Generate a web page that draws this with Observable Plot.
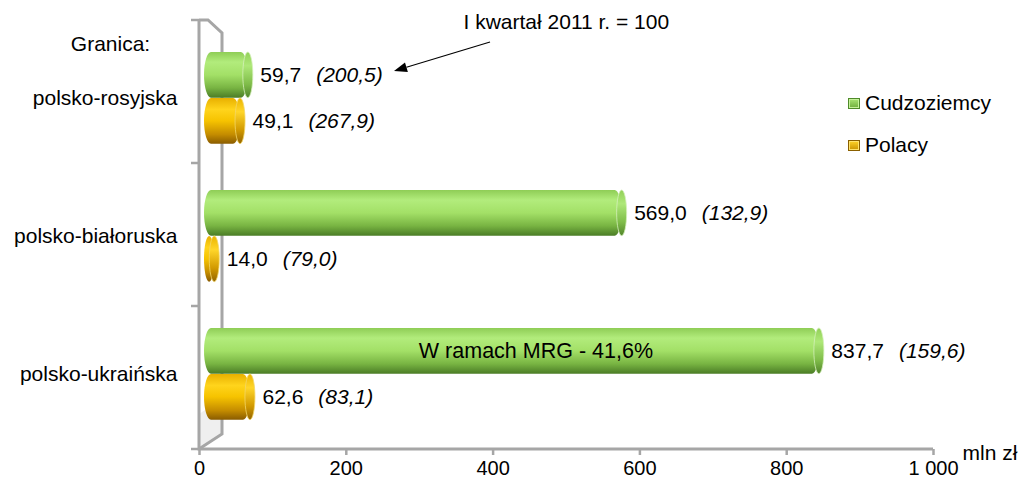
<!DOCTYPE html>
<html><head><meta charset="utf-8">
<script src="https://cdn.jsdelivr.net/npm/d3@7"></script>
<script src="https://cdn.jsdelivr.net/npm/@observablehq/plot@0.6"></script>
<style>
body{margin:0;background:#fff;font-family:"Liberation Sans",Arial,sans-serif;}
#wrap{position:relative;width:1019px;height:495px;}
.legend{position:absolute;left:848px;top:89px;font-size:21px;color:#000;}
.legend .item{display:flex;align-items:center;height:28px;margin-bottom:14px;}
.legend .sw{width:12px;height:11px;margin-right:5px;box-sizing:border-box;}
g[aria-label="x-axis tick"] path{stroke:#a6a6a6;stroke-width:2.5px;}
</style></head><body><div id="wrap"></div>
<script>
const categories = ["polsko-rosyjska", "polsko-białoruska", "polsko-ukraińska"];
const seriesNames = ["Cudzoziemcy", "Polacy"];
const cudzoziemcy = [59.7, 569.0, 837.7];
const cudzoziemcyIndex = [200.5, 132.9, 159.6];
const polacy = [49.1, 14.0, 62.6];
const polacyIndex = [267.9, 79.0, 83.1];
const xTicks = [0, 200, 400, 600, 800, 1000];
const annotation = "I kwartał 2011 r. = 100";
const mrgNote = "W ramach MRG - 41,6%";
const mrgCategory = "polsko-ukraińska";
const axisTitle = "Granica:";
const unit = "mln zł";

const green = categories.map((c, i) => ({cat: c, value: cudzoziemcy[i], index: cudzoziemcyIndex[i]}));
const yellow = categories.map((c, i) => ({cat: c, value: polacy[i], index: polacyIndex[i]}));
const fmt = v => v.toFixed(1).replace(".", ",");
const lbl = d => `${fmt(d.value)}|(${fmt(d.index)})`;
const FONT = '"Liberation Sans", Arial, sans-serif';

const barCommon = {y: "cat", dx: 5, rx: 7, ry: 23};
const plot = Plot.plot({
  width: 1019, height: 495,
  marginLeft: 199, marginRight: 86, marginTop: 20, marginBottom: 46,
  style: {fontFamily: FONT, fontSize: "20px", color: "black", background: "white", overflow: "visible"},
  x: {domain: [0, 1000]},
  y: {domain: categories, range: [28, 443], padding: 0},
  marks: [
    Plot.axisX({ticks: xTicks, tickSize: 6, tickPadding: 5, fontSize: 20, label: null,
      tickFormat: d => d3.format(",")(d).replace(/,/g, "\u00a0")}),
    Plot.axisY({tickSize: 0, tickPadding: 22, fontSize: 21, label: null}),
    Plot.barX(green, {...barCommon, x1: 0, x2: "value", insetTop: 23, insetBottom: 69.33, fill: "url(#gradGreen)"}),
    Plot.barX(green, {...barCommon, x1: "value", x2: "value", insetLeft: -5, insetRight: -5, insetTop: 23, insetBottom: 69.33, fill: "url(#gradGreenCap)", stroke: "#d6f0bc", strokeWidth: 0.8}),
    Plot.barX(yellow, {...barCommon, x1: 0, x2: "value", insetTop: 69, insetBottom: 23.33, fill: "url(#gradYellow)"}),
    Plot.barX(yellow, {...barCommon, x1: "value", x2: "value", insetLeft: -5, insetRight: -5, insetTop: 69, insetBottom: 23.33, fill: "url(#gradYellowCap)", stroke: "#f3d76a", strokeWidth: 0.8}),
    Plot.text(green, {x: "value", y: "cat", dy: -23, dx: 17, text: lbl, textAnchor: "start", fontSize: 21}),
    Plot.text(yellow, {x: "value", y: "cat", dy: 23, dx: 17, text: lbl, textAnchor: "start", fontSize: 21}),
    Plot.text(green.filter(d => d.cat === mrgCategory), {x: d => d.value / 2, y: "cat", dy: -23, dx: 29, text: () => mrgNote, fontSize: 21.5}),
    Plot.text([axisTitle], {frameAnchor: "top-left", dx: -89, dy: 24, text: d => d, textAnchor: "middle", lineAnchor: "middle", fontSize: 21}),
    Plot.text([annotation], {frameAnchor: "top-left", dx: 264, dy: 2, text: d => d, textAnchor: "start", lineAnchor: "middle", fontSize: 21}),
    Plot.text([unit], {frameAnchor: "bottom-right", dx: 29, dy: 4, text: d => d, textAnchor: "start", lineAnchor: "middle", fontSize: 21})
  ]
});

const svg = d3.select(plot);
const defs = svg.insert("defs", ":first-child");
function grad(id, stops) {
  const lg = defs.append("linearGradient").attr("id", id).attr("x1", 0).attr("y1", 0).attr("x2", 0).attr("y2", 1);
  stops.forEach(([o, c]) => lg.append("stop").attr("offset", o).attr("stop-color", c));
}
grad("gradGreen", [[0, "#8fcd56"], [0.22, "#b2ec7c"], [0.5, "#a3e067"], [0.78, "#79b543"], [1, "#4b7d26"]]);
grad("gradGreenCap", [[0, "#92d058"], [0.3, "#aee878"], [0.7, "#80bd4a"], [1, "#52852b"]]);
grad("gradYellow", [[0, "#e8b000"], [0.25, "#ffd41c"], [0.5, "#f6c300"], [0.8, "#c48c00"], [1, "#8a5c00"]]);
grad("gradYellowCap", [[0, "#ebb400"], [0.3, "#ffd62a"], [0.7, "#d29a00"], [1, "#946400"]]);

// split value labels into normal value + italic index
svg.selectAll("text").filter(function () { return this.textContent.includes("|"); }).each(function () {
  const [a, b] = this.textContent.split("|");
  const t = d3.select(this);
  t.text(null);
  t.append("tspan").text(a);
  t.append("tspan").attr("dx", 15).attr("font-style", "italic").text(b);
});

// 3D frame decoration (behind marks)
const sx = plot.scale("x");
const X0 = sx.apply(0), X1 = sx.apply(1000);
const TOP = 20, BOT = 449, D = 23;
const deco = svg.insert("g", "g").attr("fill", "none").attr("stroke", "#a6a6a6").attr("stroke-width", 3);
deco.append("path").attr("fill", "#efefef").attr("stroke", "none")
  .attr("d", `M${X0},${BOT}L${X0 + D},${BOT - 15}L${X0 + D},${BOT - 50}L${X0},${BOT - 35}Z`);
deco.append("path").attr("d", `M${X0},${TOP}L${X0 + 9},${TOP}L${X0 + D},${TOP + 13}L${X0 + D},${BOT - 15}L${X0},${BOT}`);
deco.append("path").attr("d", `M${X0},${TOP}L${X0},${BOT}L${X1},${BOT}`);
for (let k = 0; k <= 3; k++) {
  const yy = TOP + k * (BOT - TOP) / 3;
  deco.append("path").attr("d", `M${X0 - 8},${yy}L${X0},${yy}`).attr("stroke-width", 2.5);
}

// annotation arrow
const ax1 = 490, ay1 = 42, ax2 = 394, ay2 = 71;
const arr = svg.append("g");
const vx = ax2 - ax1, vy = ay2 - ay1, L = Math.hypot(vx, vy), ux = vx / L, uy = vy / L;
const hb = [ax2 - ux * 13, ay2 - uy * 13];
arr.append("path").attr("d", `M${ax1},${ay1}L${hb[0]},${hb[1]}`).attr("stroke", "#000").attr("stroke-width", 1.2);
arr.append("path").attr("fill", "#000")
  .attr("d", `M${ax2},${ay2}L${hb[0] - uy * 5},${hb[1] + ux * 5}L${hb[0] + uy * 5},${hb[1] - ux * 5}Z`);

const wrap = document.getElementById("wrap");
wrap.appendChild(plot);

// legend
const legend = document.createElement("div");
legend.className = "legend";
const swatch = [
  "background:linear-gradient(#a9e473,#6fae3c);border:1px solid #4f8a2a;box-shadow:inset 0 0 0 1px #c6f29a;",
  "background:linear-gradient(#ffd52a,#c99200);border:1px solid #8a6000;box-shadow:inset 0 0 0 1px #ffe36a;"
];
seriesNames.forEach((name, i) => {
  const it = document.createElement("div");
  it.className = "item";
  it.innerHTML = `<span class="sw" style="${swatch[i]}"></span><span>${name}</span>`;
  legend.appendChild(it);
});
wrap.appendChild(legend);
</script></body></html>
